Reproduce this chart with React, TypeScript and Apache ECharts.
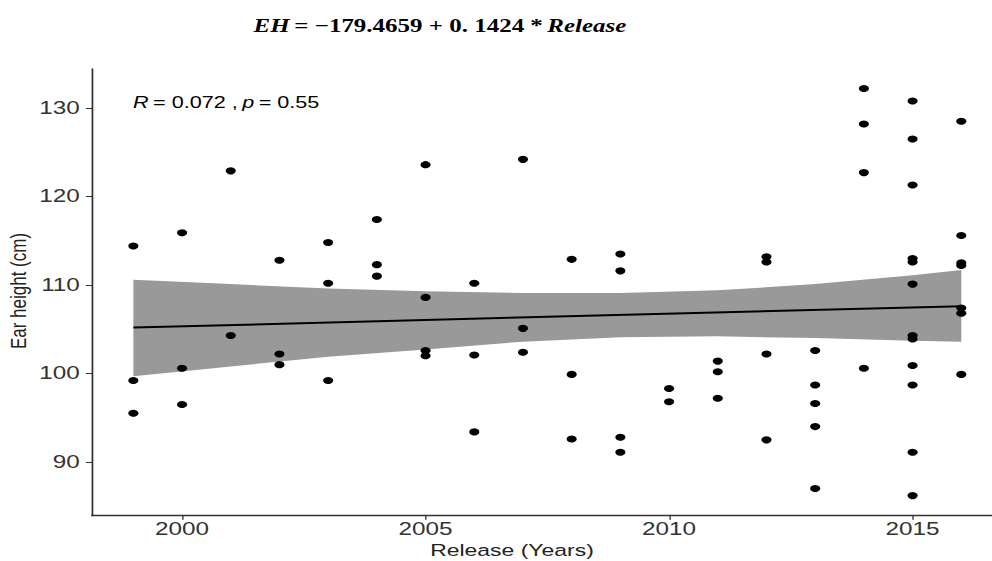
import React, { useEffect, useRef } from "react";
import * as echarts from "echarts";

// Release year of each hybrid group and the ear heights (cm) measured for it
const releaseYears = [1999, 2000, 2001, 2002, 2003, 2004, 2005, 2006, 2007, 2008, 2009, 2010, 2011, 2012, 2013, 2014, 2015, 2016];
const earHeights: number[][] = [
  [114.4, 99.2, 95.5],
  [115.9, 100.6, 96.5],
  [122.9, 104.3],
  [112.8, 102.2, 101.0],
  [114.8, 110.2, 99.2],
  [117.4, 112.3, 111.0],
  [123.6, 108.6, 102.6, 102.0],
  [110.2, 102.1, 93.4],
  [124.2, 105.1, 102.4],
  [112.9, 99.9, 92.6],
  [113.5, 111.6, 92.8, 91.1],
  [98.3, 96.8],
  [101.4, 100.2, 97.2],
  [113.2, 112.6, 102.2, 92.5],
  [102.6, 98.7, 96.6, 94.0, 87.0],
  [132.2, 128.2, 122.7, 100.6],
  [130.8, 126.5, 121.3, 113.0, 112.6, 110.1, 104.3, 103.9, 100.9, 98.7, 91.1, 86.2],
  [128.5, 115.6, 112.5, 112.2, 107.4, 106.8, 99.9],
];

// Fitted model EH = intercept + slope * Release
const intercept = -179.4659;
const slope = 0.1424;
const fitYears = [1999, 2016];

// 95% confidence band of the fit
const ciYears = [1999, 2001, 2003, 2005, 2007, 2009, 2011, 2013, 2015, 2016];
const ciLower = [99.7, 100.8, 101.9, 102.7, 103.6, 104.1, 104.2, 104.0, 103.7, 103.6];
const ciUpper = [110.6, 110.1, 109.6, 109.3, 109.1, 109.1, 109.4, 110.1, 111.1, 111.7];

const xTicks = [2000, 2005, 2010, 2015];
const yTicks = [90, 100, 110, 120, 130];

const corrR = "0.072";
const corrP = "0.55";

// The plot is laid out on a narrower canvas and stretched horizontally
const OUT_W = 992;
const OUT_H = 561;
const IN_W = 735;
const SX = OUT_W / IN_W;

export default function App() {
  const ref = useRef<HTMLDivElement>(null);

  useEffect(() => {
    if (!ref.current) return;
    const chart = echarts.init(ref.current, null, { renderer: "svg" });

    const points: number[][] = [];
    releaseYears.forEach((yr, i) => earHeights[i].forEach((v) => points.push([yr, v])));
    const fitLine = fitYears.map((yr) => [yr, intercept + slope * yr]);

    const sans = "'Liberation Sans', Arial, sans-serif";
    const axisColor = "#333333";

    chart.setOption({
      animation: false,
      backgroundColor: "#ffffff",
      grid: { left: 92 / SX, right: 0, top: 69, bottom: 45.3 },
      xAxis: {
        type: "value",
        min: 1998.15,
        max: 2016.63,
        axisLine: { show: true, lineStyle: { color: axisColor, width: 1.3 } },
        axisTick: { show: true, length: 4, customValues: xTicks, lineStyle: { color: axisColor, width: 1 } },
        axisLabel: {
          customValues: xTicks,
          formatter: (v: number) => String(v),
          margin: 4,
          fontFamily: sans,
          fontSize: 18,
          color: "#333333",
        },
        splitLine: { show: false },
      },
      yAxis: {
        type: "value",
        min: 83.93,
        max: 134.41,
        axisLine: { show: true, lineStyle: { color: axisColor, width: 1.3 } },
        axisTick: { show: true, length: 4.5, customValues: yTicks, lineStyle: { color: axisColor, width: 1 } },
        axisLabel: {
          customValues: yTicks,
          formatter: (v: number) => String(v),
          margin: 9,
          fontFamily: sans,
          fontSize: 18,
          color: "#333333",
        },
        splitLine: { show: false },
      },
      series: [
        {
          // confidence band drawn as one filled polygon
          type: "custom",
          data: [[ciYears[0], ciLower[0]]],
          silent: true,
          z: 1,
          renderItem: (_params: any, api: any) => {
            const pts: number[][] = [];
            ciYears.forEach((yr, i) => pts.push(api.coord([yr, ciLower[i]])));
            for (let i = ciYears.length - 1; i >= 0; i--) pts.push(api.coord([ciYears[i], ciUpper[i]]));
            return {
              type: "polygon",
              shape: { points: pts },
              style: { fill: "#999999", stroke: "none" },
            };
          },
        },
        {
          type: "line",
          data: fitLine,
          symbol: "none",
          lineStyle: { color: "#000000", width: 2 },
          silent: true,
          z: 2,
        },
        {
          type: "scatter",
          data: points,
          symbol: "circle",
          symbolSize: [7.5, 7],
          itemStyle: { color: "#000000", opacity: 1 },
          z: 3,
        },
      ],
      graphic: [
        {
          type: "text",
          x: 440 / SX,
          y: 26,
          style: {
            text: "{i|EH} {n|= −179.4659 + 0. 1424 *} {i|Release}",
            align: "center",
            verticalAlign: "middle",
            fill: "#000000",
            rich: {
              i: { fontFamily: "'Liberation Serif', serif", fontStyle: "italic", fontWeight: "bold", fontSize: 18.5, fill: "#000000" },
              n: { fontFamily: "'Liberation Serif', serif", fontWeight: "bold", fontSize: 18.5, fill: "#000000" },
            },
          },
        },
        {
          type: "text",
          x: 133 / SX,
          y: 102.7,
          style: {
            text: `{i|R} {n|= ${corrR} ,} {i|p} {n|= ${corrP}}`,
            align: "left",
            verticalAlign: "middle",
            fill: "#000000",
            rich: {
              i: { fontFamily: sans, fontStyle: "italic", fontSize: 16, fill: "#000000" },
              n: { fontFamily: sans, fontSize: 16, fill: "#000000" },
            },
          },
        },
        {
          type: "text",
          x: 512 / SX,
          y: 550,
          style: {
            text: "Release (Years)",
            font: `17px ${sans}`,
            fill: "#222222",
            align: "center",
            verticalAlign: "middle",
          },
        },
        {
          type: "text",
          x: 18 / SX,
          y: 291,
          rotation: Math.PI / 2,
          style: {
            text: "Ear height (cm)",
            font: `17px ${sans}`,
            fill: "#222222",
            align: "center",
            verticalAlign: "middle",
          },
        },
      ],
    });

    return () => chart.dispose();
  }, []);

  return (
    <div
      style={{
        position: "absolute",
        left: 0,
        top: 0,
        width: OUT_W,
        height: OUT_H,
        overflow: "hidden",
        background: "#ffffff",
      }}
    >
      <div
        ref={ref}
        style={{
          width: IN_W,
          height: OUT_H,
          transform: `scaleX(${SX})`,
          transformOrigin: "0 0",
        }}
      />
    </div>
  );
}
